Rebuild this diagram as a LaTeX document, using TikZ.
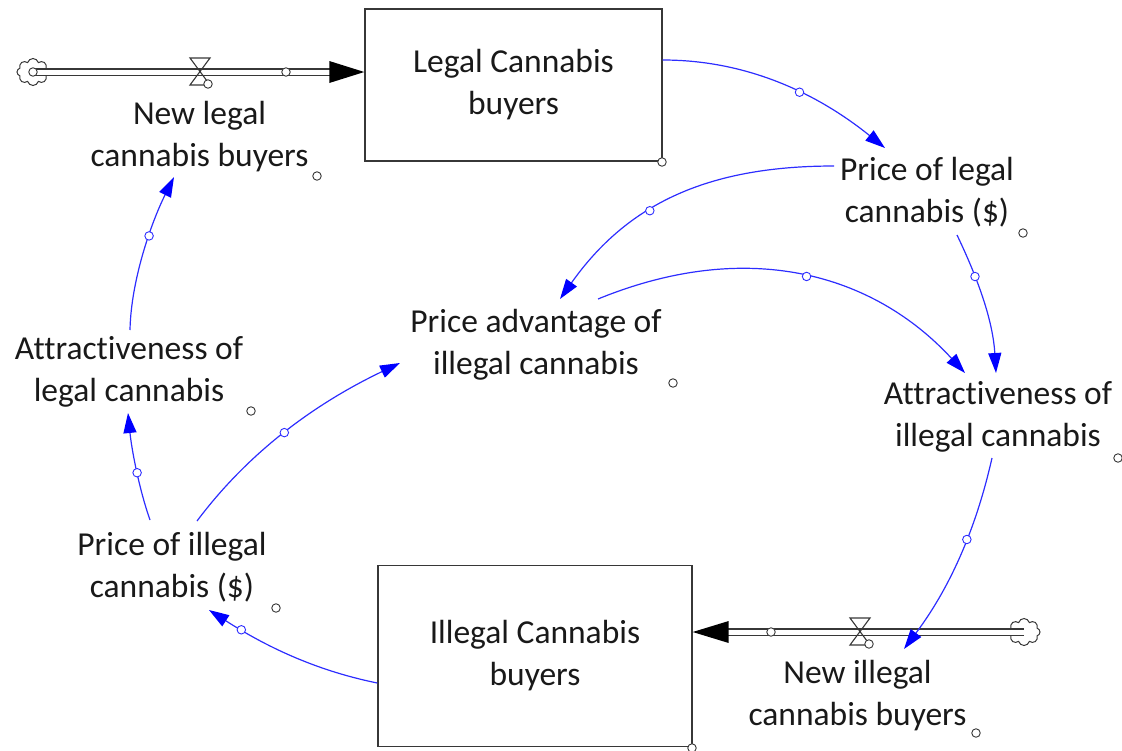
\documentclass[tikz,border=0pt]{standalone}
\usepackage{fontspec}
\setmainfont{Carlito}[Ligatures=NoCommon]
\usetikzlibrary{arrows.meta,shapes.symbols,calc}
\definecolor{conn}{RGB}{45,45,255}
\definecolor{txt}{RGB}{25,25,25}
\definecolor{boxline}{RGB}{55,55,55}
\begin{document}
\begin{tikzpicture}[x=1pt,y=-1pt,
  lbl/.style={align=center,inner sep=0pt,text=txt,font=\fontsize{33.5}{42}\selectfont},
  stockbox/.style={draw=boxline,line width=1.4pt,inner sep=0pt,align=center,text=txt,font=\fontsize{33.5}{42}\selectfont},
  link/.style={draw=conn,line width=1.2pt,-{Triangle[length=20pt,width=13pt,fill=blue,color=blue]}},
  lcirc/.style={circle,draw=conn,fill=white,line width=0.9pt,inner sep=0pt,minimum size=8.5pt},
  dotc/.style={circle,draw=boxline,fill=white,line width=0.9pt,inner sep=0pt,minimum size=8.5pt},
  pipe/.style={draw=boxline,double=white,double distance=5pt,line width=1.2pt},
  flowhead/.style={fill=black},
  valve/.style={draw=boxline,line width=1.1pt},
  cloudsrc/.style={cloud,cloud puffs=8,draw=boxline,line width=1pt,minimum width=32pt,minimum height=27pt,inner sep=0pt,aspect=1.15}
]
\useasboundingbox (0,0) rectangle (1122,750);

% stocks
\node[stockbox,minimum width=297pt,minimum height=152pt] (L) at (513.5,85) {Legal Cannabis\\buyers};
\node[stockbox,minimum width=314pt,minimum height=181pt] (I) at (535,656) {Illegal Cannabis\\buyers};

% variables
\node[lbl] (NL) at (199.5,137) {New legal\\cannabis buyers};
\node[lbl] (PL) at (927,192) {Price of legal\\cannabis (\$)};
\node[lbl] (PA) at (536,344.5) {Price advantage of\\illegal cannabis};
\node[lbl] (AL) at (129,372) {Attractiveness of\\legal cannabis};
\node[lbl] (AI) at (998,417) {Attractiveness of\\illegal cannabis};
\node[lbl] (PI) at (172,567.5) {Price of illegal\\cannabis (\$)};
\node[lbl] (NI) at (857.5,695.5) {New illegal\\cannabis buyers};

% small handles
\node[dotc] (h1) at (317,176) {};
\node[dotc] (h2) at (1023,233) {};
\node[dotc] (h3) at (673,383) {};
\node[dotc] (h4) at (251,411) {};
\node[dotc] (h5) at (1118,458) {};
\node[dotc] (h6) at (276,608) {};
\node[dotc] (h7) at (976,733) {};
\node[dotc] (h8) at (662,162) {};
\node[dotc] (h9) at (692,748) {};

% top flow
\node[cloudsrc] (CL1) at (33,72) {};
\coordinate (p1) at ([yshift=13pt]L.west);
\draw[pipe] ([xshift=2pt]CL1.center) -- ([xshift=-34pt]p1);
\fill[flowhead] (p1) -- ([shift={(-35,-11)}]p1) -- ([shift={(-35,11)}]p1) -- cycle;
\node[dotc] (cs1) at (CL1.center) {};
\node[dotc] (fp1) at (286,72) {};
\coordinate (v1) at (200,72);
\draw[valve] ([shift={(-10,-14)}]v1) -- ([shift={(10,-14)}]v1) -- ([shift={(-10,13)}]v1) -- ([shift={(10,13)}]v1) -- cycle;
\node[dotc] (vc1) at (208,84) {};

% bottom flow
\node[cloudsrc] (CL2) at (1024,632) {};
\coordinate (p2) at ([yshift=24pt]I.east);
\draw[pipe] (CL2.center) -- ([xshift=34pt]p2);
\fill[flowhead] (p2) -- ([shift={(36,-11)}]p2) -- ([shift={(36,11)}]p2) -- cycle;
\node[dotc] (fp2) at (771,632) {};
\coordinate (v2) at (860,632);
\draw[valve] ([shift={(-10,-14)}]v2) -- ([shift={(10,-14)}]v2) -- ([shift={(-10,13)}]v2) -- ([shift={(10,13)}]v2) -- cycle;
\node[dotc] (vc2) at (869,644) {};

% causal links
\draw[link] ([yshift=25pt]L.east) .. controls +(90,0) and +(-62,-50) .. ([shift={(-42,-44)}]PL.center) node[lcirc,pos=0.57] {};
\draw[link] ([shift={(-93,-26)}]PL.center) .. controls +(-125,0) and +(68,-96) .. ([shift={(24,-45.5)}]PA.center) node[lcirc,pos=0.6] {};
\draw[link] ([shift={(30,43)}]PL.center) .. controls +(23,48) and +(-3,-50) .. ([shift={(-2,-44)}]AI.center) node[lcirc,pos=0.3] {};
\draw[link] ([shift={(62,-45.5)}]PA.center) .. controls +(149,-61) and +(-92,-100) .. ([shift={(-33,-44)}]AI.center) node[lcirc,pos=0.51] {};
\draw[link] ([shift={(-6,41)}]AI.center) .. controls +(-16.5,73) and +(45,-60) .. ([shift={(46.5,-46.5)}]NI.center) node[lcirc,pos=0.4] {};
\draw[link] ([yshift=-27pt]I.west) .. controls +(-64,-13) and +(54.6,35) .. ([shift={(37,42.5)}]PI.center) node[lcirc,pos=0.8] {};
\draw[link] ([shift={(-22,-47.5)}]PI.center) .. controls +(-11.5,-33) and +(3.5,35) .. ([shift={(-1,41)}]AL.center) node[lcirc,pos=0.45] {};
\draw[link] ([shift={(25,-46.5)}]PI.center) .. controls +(54,-72) and +(-81,38.7) .. ([shift={(-136,18.5)}]PA.center) node[lcirc,pos=0.48] {};
\draw[link] ([shift={(1,-42)}]AL.center) .. controls +(1,-50) and +(-22.5,45) .. ([shift={(-25.5,40)}]NL.center) node[lcirc,pos=0.6] {};
\end{tikzpicture}
\end{document}
